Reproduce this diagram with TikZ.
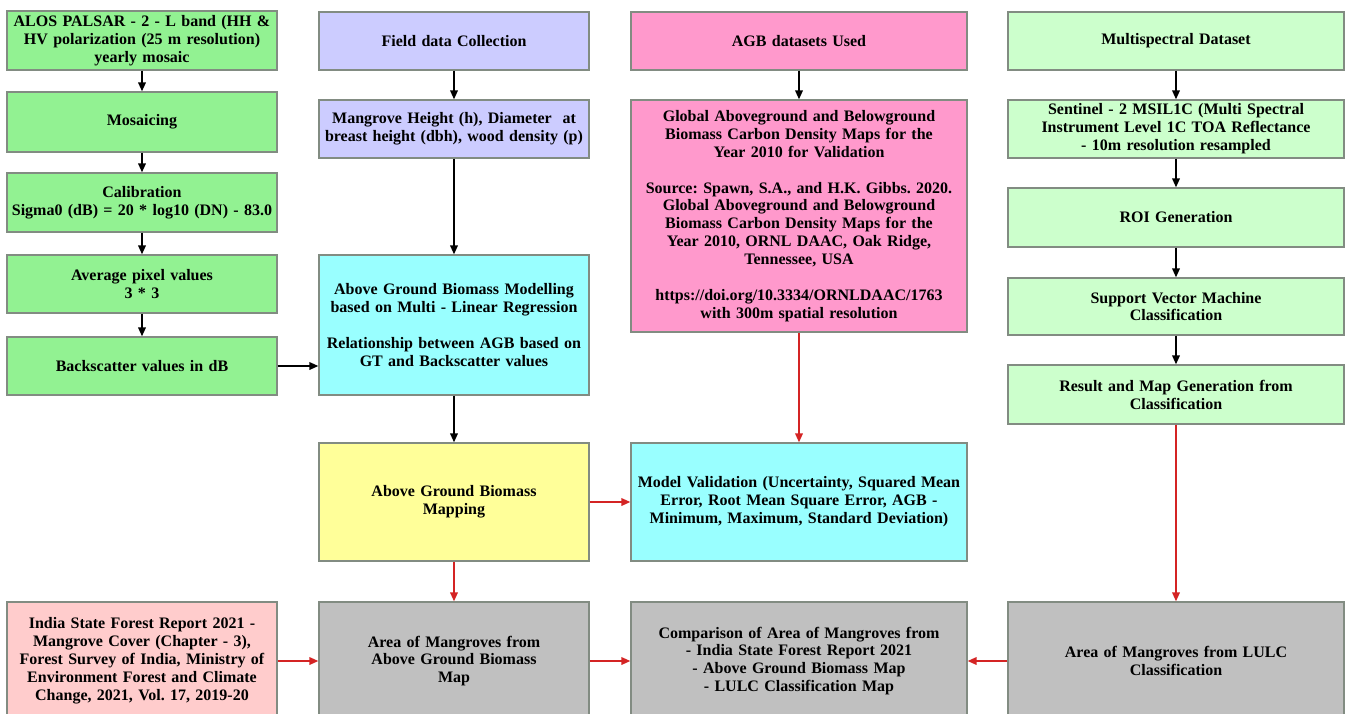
\documentclass[tikz,border=0pt]{standalone}
\usepackage{fontspec}
\setmainfont{Liberation Serif}
\frenchspacing
\usetikzlibrary{arrows.meta}
\definecolor{cgreen}{RGB}{146,242,146}
\definecolor{cpale}{RGB}{204,255,204}
\definecolor{cpurple}{RGB}{204,204,255}
\definecolor{cpink}{RGB}{255,153,204}
\definecolor{ccyan}{RGB}{153,255,255}
\definecolor{cyellow}{RGB}{255,255,153}
\definecolor{cgray}{RGB}{192,192,192}
\definecolor{crose}{RGB}{255,204,204}
\definecolor{cborder}{RGB}{130,140,130}
\definecolor{cred}{RGB}{212,36,36}
\tikzset{
  box/.style={draw=cborder, line width=1.2pt, inner sep=0pt, align=center,
    font=\fontsize{16}{17.9}\selectfont\bfseries},
  col1/.style={minimum width=270pt, text width=268pt},
  col3/.style={minimum width=336pt, text width=332pt},
  blk/.style={-{Triangle[length=9pt,width=7.5pt]}, line width=1.8pt, black},
  redarr/.style={-{Triangle[length=9pt,width=7.5pt]}, line width=1.8pt, cred},
}
\begin{document}
\begin{tikzpicture}[x=1pt,y=-1pt]
\useasboundingbox (0,0) rectangle (1347,713);
\begin{scope}
\clip (0,0) rectangle (1347,713);
% column 1
\node[box,col1,fill=cgreen,minimum height=59pt] (alos) at (142,40.5) {ALOS PALSAR - 2 - L band (HH \&\\HV polarization (25 m resolution)\\yearly mosaic};
\node[box,col1,fill=cgreen,minimum height=60pt] (mos) at (142,122) {Mosaicing};
\node[box,col1,fill=cgreen,minimum height=59pt] (cal) at (142,202.5) {Calibration\\Sigma0 (dB) = 20 * log10 (DN) - 83.0};
\node[box,col1,fill=cgreen,minimum height=58pt] (avg) at (142,284) {Average pixel values\\3 * 3};
\node[box,col1,fill=cgreen,minimum height=58pt] (back) at (142,366) {Backscatter values in dB};
% column 2
\node[box,col1,fill=cpurple,minimum height=58pt] (field) at (454,41) {Field data Collection};
\node[box,col1,fill=cpurple,minimum height=58pt] (height) at (454,129) {Mangrove Height (h), Diameter~ at\\breast height (dbh), wood density (p)};
\node[box,col1,fill=ccyan,minimum height=140pt] (model) at (454,325) {Above Ground Biomass Modelling\\based on Multi - Linear Regression\\[17.9pt]Relationship between AGB based on\\GT and Backscatter values};
\node[box,col1,fill=cyellow,minimum height=118pt] (map) at (454,502) {Above Ground Biomass\\Mapping};
% column 3
\node[box,col3,fill=cpink,minimum height=58pt] (agbds) at (799,41) {AGB datasets Used};
\node[box,col3,fill=cpink,minimum height=232pt] (glob) at (799,216) {Global Aboveground and Belowground\\Biomass Carbon Density Maps for the\\Year 2010 for Validation\\[17.9pt]Source: Spawn, S.A., and H.K. Gibbs. 2020.\\Global Aboveground and Belowground\\Biomass Carbon Density Maps for the\\Year 2010, ORNL DAAC, Oak Ridge,\\Tennessee, USA\\[17.9pt]https://doi.org/10.3334/ORNLDAAC/1763\\with 300m spatial resolution};
\node[box,col3,fill=ccyan,minimum height=118pt] (val) at (799,502) {Model Validation (Uncertainty, Squared Mean\\Error, Root Mean Square Error, AGB -\\Minimum, Maximum, Standard Deviation)};
% column 4
\node[box,col3,fill=cpale,minimum height=58pt] (multi) at (1176,41) {Multispectral Dataset};
\node[box,col3,fill=cpale,minimum height=58pt] (sent) at (1176,129) {Sentinel - 2 MSIL1C (Multi Spectral\\Instrument Level 1C TOA Reflectance\\- 10m resolution resampled};
\node[box,col3,fill=cpale,minimum height=59pt] (roi) at (1176,217.5) {ROI Generation};
\node[box,col3,fill=cpale,minimum height=57pt] (svm) at (1176,306.5) {Support Vector Machine\\Classification};
\node[box,col3,fill=cpale,minimum height=59pt] (res) at (1176,394.5) {Result and Map Generation from\\Classification};
% bottom row
\node[box,col1,fill=crose,minimum height=118pt] (isfr) at (142,661) {India State Forest Report 2021 -\\Mangrove Cover (Chapter - 3),\\Forest Survey of India, Ministry of\\Environment Forest and Climate\\Change, 2021, Vol. 17, 2019-20};
\node[box,col1,fill=cgray,minimum height=118pt] (areaagb) at (454,661) {Area of Mangroves from\\Above Ground Biomass\\Map};
\node[box,col3,fill=cgray,minimum height=118pt] (comp) at (799,661) {Comparison of Area of Mangroves from\\- India State Forest Report 2021\\- Above Ground Biomass Map\\- LULC Classification Map};
\node[box,col3,fill=cgray,minimum height=118pt] (arealulc) at (1176,661) {Area of Mangroves from LULC\\Classification};
\end{scope}
% black arrows
\draw[blk] (alos) -- (mos);
\draw[blk] (mos) -- (cal);
\draw[blk] (cal) -- (avg);
\draw[blk] (avg) -- (back);
\draw[blk] (back.east) -- (back.east -| model.west);
\draw[blk] (field) -- (height);
\draw[blk] (height) -- (model);
\draw[blk] (model) -- (map);
\draw[blk] (agbds) -- (glob);
\draw[blk] (multi) -- (sent);
\draw[blk] (sent) -- (roi);
\draw[blk] (roi) -- (svm);
\draw[blk] (svm) -- (res);
% red arrows
\draw[redarr] (glob) -- (val);
\draw[redarr] (map) -- (val);
\draw[redarr] (map) -- (areaagb);
\draw[redarr] (res) -- (arealulc);
\draw[redarr] (isfr) -- (areaagb);
\draw[redarr] (areaagb) -- (comp);
\draw[redarr] (arealulc) -- (comp);
\end{tikzpicture}
\end{document}
